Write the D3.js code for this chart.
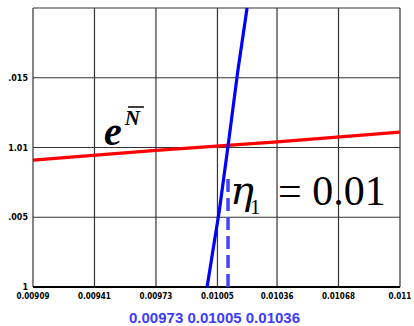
<!DOCTYPE html>
<html>
<head>
<meta charset="utf-8">
<script src="https://cdn.jsdelivr.net/npm/d3@7"></script>
<style>
  body { margin: 0; background: #fff; }
  svg { display: block; }
</style>
</head>
<body>
<svg id="chart"></svg>
<script>
// axis ticks (as printed by the original plot)
var xTicks = [0.00909, 0.00941, 0.00973, 0.01005, 0.01036, 0.01068, 0.011];
var xTickLabels = ["0.00909", "0.00941", "0.00973", "0.01005", "0.01036", "0.01068", "0.011"];
var yTicks = [1, 1.005, 1.01, 1.015, 1.02];
var yTickLabels = ["1", ".005", "1.01", ".015", ""];

// red curve e^N
var redX = [0.00909, 0.00973, 0.01036, 0.011];
var redY = [1.0091, 1.0098, 1.0104, 1.0111];

// blue steep curve
var blueX = [0.009996, 0.01006, 0.010105, 0.010155, 0.010204];
var blueY = [1.0, 1.0055, 1.0101, 1.0154, 1.02];

// dashed marker at eta1
var markX = 0.010105;
var markY = [1.0, 1.0081];

var blueLabels = ["0.00973", "0.01005", "0.01036"];

var width = 414, height = 326;
var m = { left: 33, right: 400, top: 8, bottom: 287 };

var svg = d3.select("#chart").attr("width", width).attr("height", height);

var x = d3.scaleLinear().domain([0.00909, 0.011]).range([m.left, m.right]);
var y = d3.scaleLinear().domain([1, 1.02]).range([m.bottom, m.top]);

// grid
svg.append("g").selectAll("line").data(xTicks).enter().append("line")
    .attr("x1", function (d) { return x(d); }).attr("x2", function (d) { return x(d); })
    .attr("y1", m.top).attr("y2", m.bottom)
    .attr("stroke", "#333").attr("stroke-width", 1.2);
svg.append("g").selectAll("line").data(yTicks).enter().append("line")
    .attr("x1", m.left).attr("x2", m.right)
    .attr("y1", function (d) { return y(d); }).attr("y2", function (d) { return y(d); })
    .attr("stroke", "#333").attr("stroke-width", 1.2);
svg.append("line").attr("x1", m.left).attr("x2", m.right).attr("y1", m.bottom).attr("y2", m.bottom)
    .attr("stroke", "#000").attr("stroke-width", 2.2);

// tick labels
svg.append("g").selectAll("text").data(yTicks).enter().append("text")
    .attr("x", m.left - 5).attr("y", function (d) { return y(d) + 3; })
    .attr("text-anchor", "end")
    .style("font", "bold 8px 'DejaVu Sans'")
    .text(function (d, i) { return yTickLabels[i]; });
svg.append("g").selectAll("text").data(xTicks).enter().append("text")
    .attr("x", function (d) { return x(d); }).attr("y", m.bottom + 12)
    .attr("text-anchor", "middle")
    .style("font", "bold 8px 'DejaVu Sans Condensed'")
    .text(function (d, i) { return xTickLabels[i]; });

var line = d3.line().x(function (d) { return x(d[0]); }).y(function (d) { return y(d[1]); });

// dashed marker
svg.append("line")
    .attr("x1", x(markX)).attr("x2", x(markX))
    .attr("y1", y(markY[0])).attr("y2", y(markY[1]))
    .attr("stroke", "#4444ff").attr("stroke-width", 3.5)
    .attr("stroke-dasharray", "13,6");

svg.append("path").datum(d3.zip(redX, redY)).attr("d", line)
    .attr("fill", "none").attr("stroke", "#ff0000").attr("stroke-width", 3.2);

svg.append("path").datum(d3.zip(blueX, blueY)).attr("d", line)
    .attr("fill", "none").attr("stroke", "#0000ff").attr("stroke-width", 3.2);

// e^N label
var eLab = svg.append("text").attr("x", 104).attr("y", 145)
    .style("font", "italic bold 40px 'Liberation Serif'");
eLab.append("tspan").text("e");
eLab.append("tspan").attr("dx", 3).attr("dy", -20).style("font-size", "21px").text("N");
svg.append("line").attr("x1", 128).attr("x2", 144).attr("y1", 107).attr("y2", 107)
    .attr("stroke", "#000").attr("stroke-width", 1.5);

// eta label
var eta = svg.append("text").attr("x", 230).attr("y", 204)
    .style("font", "italic 40px 'DejaVu Serif'");
eta.append("tspan").text("\u03B7");
eta.append("tspan").attr("dx", -4).attr("dy", 10).style("font", "normal 21px 'Liberation Serif'").text("1");
svg.append("text").attr("x", 278).attr("y", 205)
    .style("font", "42px 'Liberation Serif'")
    .text("= 0.01");

// blue value labels
svg.append("text").attr("x", 129).attr("y", 323)
    .attr("fill", "#3c3cff")
    .style("font", "bold 15px 'Liberation Sans'")
    .text(blueLabels.join(" "));
</script>
</body>
</html>
